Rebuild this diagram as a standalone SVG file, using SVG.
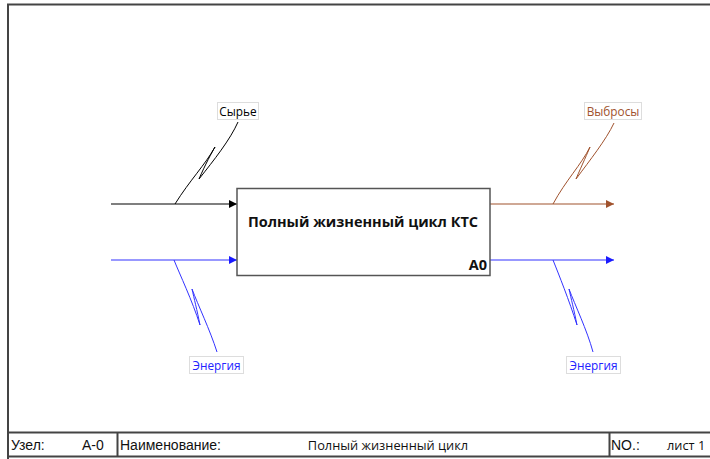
<svg xmlns="http://www.w3.org/2000/svg" width="710" height="459" viewBox="0 0 710 459">
<style>
.frame{fill:none;stroke:#444;stroke-width:2}
.lbl{font-family:"Open Sans","Liberation Sans",sans-serif;font-size:11.8px}
.tbl{font-family:"Liberation Sans",Arial,sans-serif;font-size:14px;fill:#111}
.tbl2{font-family:"Open Sans","Liberation Sans",sans-serif;font-size:12.8px;fill:#111}
.lbox{fill:#fff;stroke:#ddd;stroke-width:1}
.sq{fill:none;stroke-width:1}
.bt{font-family:"Open Sans","Liberation Sans",sans-serif;font-size:14.5px;font-weight:bold;fill:#111}
</style>
<defs>
<marker id="ab" viewBox="0 0 10 10" refX="10" refY="5" markerWidth="9" markerHeight="8" markerUnits="userSpaceOnUse" orient="auto"><path d="M0,0 L10,5 L0,10 z" fill="#000"/></marker>
<marker id="ablue" viewBox="0 0 10 10" refX="10" refY="5" markerWidth="9" markerHeight="8" markerUnits="userSpaceOnUse" orient="auto"><path d="M0,0 L10,5 L0,10 z" fill="#1a1aff"/></marker>
<marker id="abrown" viewBox="0 0 10 10" refX="10" refY="5" markerWidth="9" markerHeight="8" markerUnits="userSpaceOnUse" orient="auto"><path d="M0,0 L10,5 L0,10 z" fill="#a0522d"/></marker>
</defs>
<rect width="710" height="459" fill="#fff"/>
<g id="frame">
<path class="frame" d="M8,459 V4.5 H710"/>
<path class="frame" d="M8,432.5 H710 M8,456.5 H710 M117.5,432.5 V456.5 M609.5,432.5 V456.5"/>
<text class="tbl" x="11" y="449.5">Узел:</text>
<text class="tbl" x="82" y="449.5">A-0</text>
<text class="tbl" x="120" y="449.5">Наименование:</text>
<text class="tbl2" x="388" y="449.5" text-anchor="middle">Полный жизненный цикл</text>
<text class="tbl" x="611" y="449.5">NO.:</text>
<text class="tbl2" x="667" y="449.5" font-size="13">лист 1</text>
</g>
<g id="connectors">
<path d="M111,204 H237" stroke="#000" stroke-width="1.2" fill="none" marker-end="url(#ab)"/>
<path d="M111,260 H237" stroke="#3333ff" stroke-width="1.2" fill="none" marker-end="url(#ablue)"/>
<path d="M490,204 H614" stroke="#a0522d" stroke-width="1.2" fill="none" marker-end="url(#abrown)"/>
<path d="M490,260 H614" stroke="#3333ff" stroke-width="1.2" fill="none" marker-end="url(#ablue)"/>
<path class="sq" stroke="#000" d="M238,122 C230,140 214,160 199,179 C205,165 212,152 215,147 C205,165 190,180 175,204"/>
<path class="sq" stroke="#a0522d" d="M614,123 C606,140 590,160 576,179 C582,165 588,152 590,147 C581,165 566,180 553,204"/>
<path class="sq" stroke="#3333ff" d="M174,260 C180,275 192,300 200,325 C197,310 194,298 192,289 C198,305 210,330 217,352"/>
<path class="sq" stroke="#3333ff" d="M553,260 C559,275 569,300 577,325 C574,310 571,298 569,289 C575,305 587,330 593,352"/>
</g>
<g id="lbl-syrye">
<rect class="lbox" x="217.5" y="102.5" width="41" height="17"/>
<text class="lbl" x="238" y="115.5" text-anchor="middle" fill="#000">Сырье</text>
</g>
<g id="lbl-vybrosy">
<rect class="lbox" x="584.5" y="102.5" width="57" height="17"/>
<text class="lbl" x="613" y="115.5" text-anchor="middle" fill="#a0522d">Выбросы</text>
</g>
<g id="lbl-energy-in">
<rect class="lbox" x="189.5" y="356.5" width="54" height="17"/>
<text class="lbl" x="216.5" y="369.5" text-anchor="middle" fill="#2222ff">Энергия</text>
</g>
<g id="lbl-energy-out">
<rect class="lbox" x="566.5" y="356.5" width="54" height="17"/>
<text class="lbl" x="593.5" y="369.5" text-anchor="middle" fill="#2222ff">Энергия</text>
</g>
<g id="A0">
<rect x="237" y="188.5" width="253" height="87" fill="#fff" stroke="#555" stroke-width="1.5"/>
<text class="bt" x="363" y="227" text-anchor="middle">Полный жизненный цикл КТС</text>
<text class="bt" x="487" y="270" text-anchor="end">A0</text>
</g>
</svg>
